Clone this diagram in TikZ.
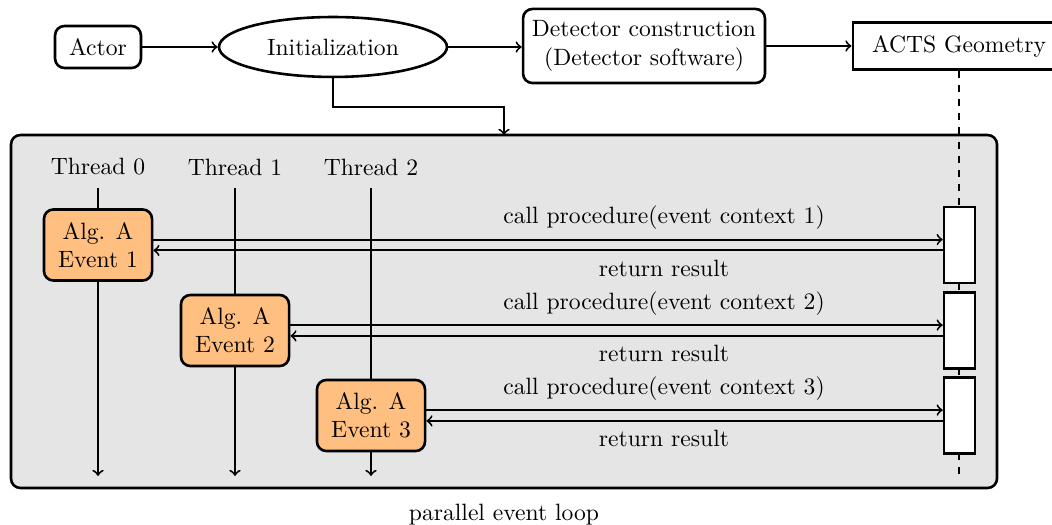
\documentclass[tikz,border=0pt]{standalone}
\usetikzlibrary{shapes.geometric}

\tikzset{
  box/.style={draw, line width=1.1pt, rounded corners, align=center},
  alg/.style={box, fill=orange!50, minimum width=45.8pt, minimum height=30.1pt},
  act/.style={draw, line width=1.1pt, fill=white, minimum width=13.1pt, minimum height=32.2pt},
  flow/.style={thick, ->},
}

\begin{document}
\begin{tikzpicture}[x=0.4237pt, y=-0.4237pt]
  \useasboundingbox (0,0) rectangle (1052,525);

  %%%%% top row %%%%%
  \node[box, minimum width=36.4pt, minimum height=17.8pt] (actor) at (98,47) {Actor};
  \node[draw, ellipse, line width=1.1pt, minimum width=96.6pt, minimum height=25.4pt] (init) at (333,47) {Initialization};
  \node[box, minimum width=102.5pt, minimum height=31.4pt] (det) at (644,46) {Detector construction\\(Detector software)};
  \node[draw, line width=1.1pt, minimum width=90pt, minimum height=19.9pt] (acts) at (959,46) {ACTS Geometry};

  \draw[flow] (actor) -- (init);
  \draw[flow] (init.east) -- (init.east -| det.west);
  \draw[flow] (det) -- (acts);

  %%%%% event loop %%%%%
  \draw[line width=1.1pt, fill=gray!20, rounded corners] (11,135) rectangle (997,488);
  \node (loop) at (504,515) {parallel event loop};

  \coordinate (ptop) at (504,135);
  \draw[flow] (init.south) -- ++(0,29) -| (ptop);

  \coordinate (lend) at (959,477);
  \draw[thick, dashed] (acts.south) -- (lend);

  \foreach \i/\x in {0/98, 1/235, 2/371} {
    \node (t\i) at (\x,167) {Thread \i};
    \coordinate (e\i) at (\x,476);
    \draw[flow, shorten <=2pt] (t\i.south) -- (e\i);
  }

  \foreach \i/\x/\y in {1/98/245, 2/235/330.5, 3/371/415.5} {
    \node[alg] (a\i) at (\x,\y) {Alg. A\\Event \i};
    \node[act] (r\i) at (959.5,\y) {};
    \node (c\i) at (664,\y-27) {call procedure(event context \i)};
    \node (b\i) at (664,\y+23) {return result};
    \draw[flow] ([yshift=2.3pt]a\i.east) -- ([yshift=2.3pt]r\i.west);
    \draw[flow] ([yshift=-2.3pt]r\i.west) -- ([yshift=-2.3pt]a\i.east);
  }
\end{tikzpicture}
\end{document}
